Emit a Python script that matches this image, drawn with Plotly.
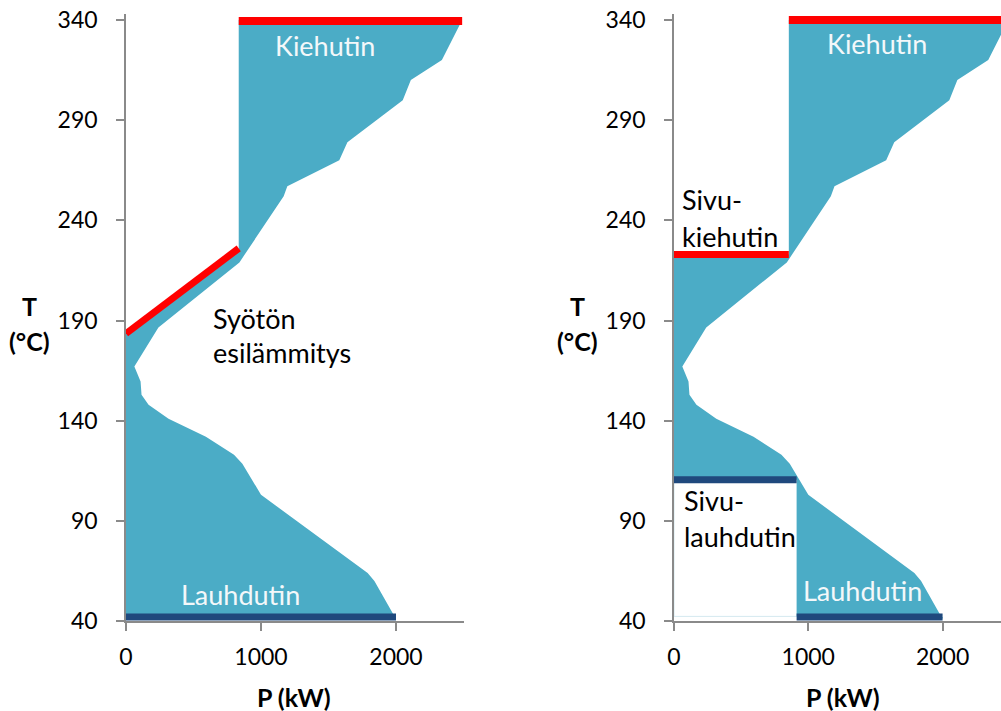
import plotly.graph_objects as go

# Grand composite curve (heat flow P in kW vs. shifted temperature T in °C), top to bottom
gcc_p = [2490, 2340, 2110, 2050, 1640, 1580, 1195, 1168, 840, 240, 62, 108, 115, 167,
         315, 592, 800, 862, 1000, 1790, 1840, 2000]
gcc_t = [340, 320, 310, 300, 279, 270, 257, 252, 219, 186.5, 167, 159.5, 153, 148,
         141, 132, 123, 118.5, 103, 64, 60, 41]

# Utility placement, case 1: condenser, feed preheating, boiler (bottom to top)
util1_p = [2000, 0, 0, 835, 835, 2490]
util1_t = [42, 42, 183.5, 226, 340, 340]
cond1_p, cond1_t = [0, 2000], [42, 42]
feed_p, feed_t = [0, 835], [183.5, 226]
boil1_p, boil1_t = [835, 2490], [339.5, 339.5]

# Utility placement, case 2: condenser, side condenser, side boiler, boiler
util2_p = [2000, 913, 913, 0, 0, 855, 855, 2490]
util2_t = [42, 42, 110.5, 110.5, 223, 223, 340, 340]
cond2_p, cond2_t = [913, 2000], [42, 42]
sidecond_p, sidecond_t = [0, 913], [110.5, 110.5]
sideboil_p, sideboil_t = [0, 855], [223, 223]
boil2_p, boil2_t = [855, 2490], [340, 340]
edge_p, edge_t = [0, 0, 913], [110.5, 42.3, 42.3]

y_ticks = [40, 90, 140, 190, 240, 290, 340]
x_ticks = [0, 1000, 2000]

FILL = "#4bacc6"
RED = "#ff0000"
NAVY = "#1f497d"
AXIS = "#8a8a8a"
FONT = "Lato"

W, H = 1001, 711
fig = go.Figure()


def add_case(xa, ya, util_p, util_t, lines):
    fig.add_trace(go.Scatter(
        x=gcc_p + util_p, y=gcc_t + util_t, fill="toself", fillcolor=FILL,
        mode="lines", line=dict(width=0, color=FILL), xaxis=xa, yaxis=ya,
        hoverinfo="skip", showlegend=False))
    for px, ty, color, w in lines:
        fig.add_trace(go.Scatter(
            x=px, y=ty, mode="lines", line=dict(color=color, width=w),
            xaxis=xa, yaxis=ya, hoverinfo="skip", showlegend=False))


add_case("x", "y", util1_p, util1_t, [
    (cond1_p, cond1_t, NAVY, 7),
    (feed_p, feed_t, RED, 7),
    (boil1_p, boil1_t, RED, 8),
])
add_case("x2", "y2", util2_p, util2_t, [
    (edge_p, edge_t, "#d4e9f0", 1),
    (cond2_p, cond2_t, NAVY, 7),
    (sidecond_p, sidecond_t, NAVY, 7),
    (sideboil_p, sideboil_t, RED, 7),
    (boil2_p, boil2_t, RED, 8),
])

# Plot-area geometry
y_px_top, y_px_bot = 14.0, 621.0
y_top_val = 343.0
ydom = [(H - y_px_bot) / H, (H - y_px_top) / H]

axis_common = dict(showline=True, linecolor=AXIS, linewidth=1.5, ticks="outside",
                   ticklen=8, tickwidth=1.5, tickcolor=AXIS, showgrid=False,
                   zeroline=False, automargin=False,
                   tickfont=dict(family=FONT, size=23, color="#000"))

fig.update_layout(
    width=W, height=H, autosize=False,
    margin=dict(l=0, r=0, t=0, b=0, pad=0),
    paper_bgcolor="white", plot_bgcolor="white",
    xaxis=dict(domain=[126 / W, 463.5 / W], range=[0, 2500], tickvals=x_ticks,
               anchor="y", ticklabelstandoff=7, **axis_common),
    yaxis=dict(domain=ydom, range=[40, y_top_val], tickvals=y_ticks, anchor="x",
               ticklabelstandoff=14, **axis_common),
    xaxis2=dict(domain=[674 / W, 1.0], range=[0, 2435], tickvals=x_ticks,
                anchor="y2", ticklabelstandoff=7, **axis_common),
    yaxis2=dict(domain=ydom, range=[40, y_top_val], tickvals=y_ticks, anchor="x2",
                ticklabelstandoff=14, **axis_common),
)

LBL = dict(family=FONT, size=27)
ann = []


def label(text, x, y, xa, ya, color="#000", xanchor="center"):
    ann.append(dict(text=text, x=x, y=y, xref=xa, yref=ya, showarrow=False,
                    xanchor=xanchor, yanchor="middle", font=dict(color=color, **LBL)))


# Case 1 labels
label("Kiehutin", 1474, 327.5, "x", "y", "#f4f8fa")
label("Syötön", 630, 191, "x", "y", xanchor="left")
label("esilämmitys", 630, 174, "x", "y", xanchor="left")
label("Lauhdutin", 848, 53, "x", "y", "#f4f8fa")
# Case 2 labels
label("Kiehutin", 1512, 328.5, "x2", "y2", "#f4f8fa")
label("Sivu-", 45, 250.5, "x2", "y2", xanchor="left")
label("kiehutin", 45, 232, "x2", "y2", xanchor="left")
label("Sivu-", 60, 100, "x2", "y2", xanchor="left")
label("lauhdutin", 60, 82, "x2", "y2", xanchor="left")
label("Lauhdutin", 1400, 55, "x2", "y2", "#f4f8fa")

# Axis titles
TTL = dict(family=FONT, size=25, color="#000")
for cx, px in [(29, 294), (577, 843)]:
    ann.append(dict(text="<b>T</b>", x=cx / W, y=(H - 306) / H, xref="paper", yref="paper",
                    showarrow=False, xanchor="center", yanchor="middle", font=TTL))
    ann.append(dict(text="<b>(°C)</b>", x=cx / W, y=(H - 341) / H, xref="paper",
                    yref="paper", showarrow=False, xanchor="center", yanchor="middle",
                    font=TTL))
    ann.append(dict(text="<b>P (kW)</b>", x=px / W, y=(H - 697) / H, xref="paper",
                    yref="paper", showarrow=False, xanchor="center", yanchor="middle",
                    font=TTL))

fig.update_layout(annotations=ann)
fig.write_html("out.html")
